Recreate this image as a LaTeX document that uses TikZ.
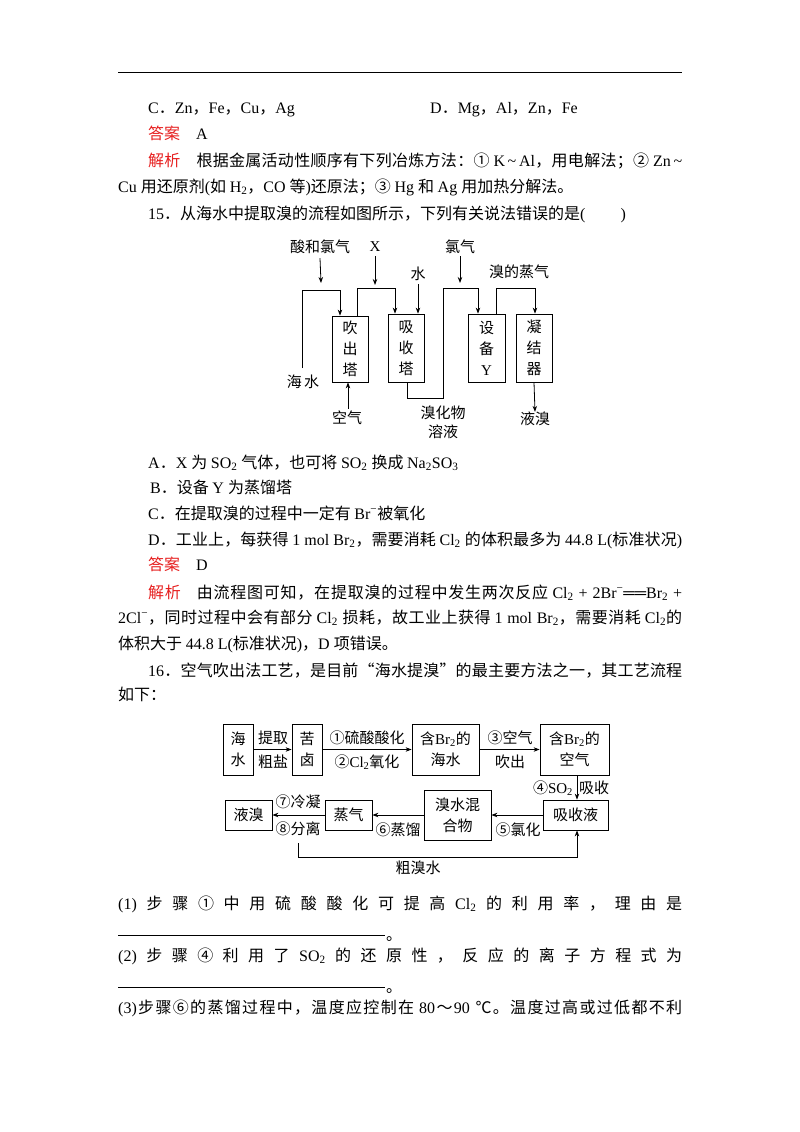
\documentclass[tikz,border=0pt]{standalone}
\usepackage{fontspec}
\usetikzlibrary{arrows.meta}
\setmainfont{Liberation Serif}
\newfontfamily\zhfont{Noto Sans CJK SC}
\XeTeXinterchartokenstate=1
\newXeTeXintercharclass\zhcls
\count255="3000 \loop\XeTeXcharclass\count255=\zhcls\ifnum\count255<"9FFF\advance\count255 by 1 \repeat
\count255="FF00 \loop\XeTeXcharclass\count255=\zhcls\ifnum\count255<"FFEF\advance\count255 by 1 \repeat
\count255="2460 \loop\XeTeXcharclass\count255=\zhcls\ifnum\count255<"2473\advance\count255 by 1 \repeat
\XeTeXcharclass"2103=\zhcls
\XeTeXcharclass"201C=\zhcls \XeTeXcharclass"201D=\zhcls
\XeTeXinterchartoks 0 \zhcls = {\hskip0pt plus .1em\zhfont}
\XeTeXinterchartoks 4095 \zhcls = {\zhfont}
\XeTeXinterchartoks \zhcls 0 = {\hskip0pt plus .1em\rmfamily}
\XeTeXinterchartoks \zhcls \zhcls = {\hskip0pt plus .1em}
\XeTeXinterchartoks 4095 0 = {\rmfamily}
\definecolor{ansred}{RGB}{230,30,30}
\newcommand\jline[2]{\makebox[#1][s]{#2}}
\begin{document}
\begin{tikzpicture}[x=1pt,y=-1pt,
  t/.style={anchor=base west,inner sep=0,font=\fontsize{16}{18}\selectfont},
  d/.style={inner sep=0,font=\fontsize{15}{19}\selectfont,align=center},
  bx/.style={draw,line width=0.8pt,inner sep=0,align=center,font=\fontsize{15}{21}\selectfont},
  ar/.style={line width=0.8pt,-{Stealth[length=6pt,width=4.5pt]}},
  ln/.style={line width=0.8pt}]
\useasboundingbox (0,0) rectangle (800,1132);
\draw[line width=0.9pt] (118,72) coordinate (r1) -- (682,72) coordinate (r2);
% page text
\node[t] (l1) at (148,113) {C．Zn，Fe，Cu，Ag};
\node[t] (l1b) at (430,113) {D．Mg，Al，Zn，Fe};
\node[t] (l2) at (148,139) {\textcolor{ansred}{答案}\hspace{1em}A};
\node[t] (l3) at (148,166) {\jline{534pt}{\textcolor{ansred}{解析}\hspace{1em}根据金属活动性顺序有下列冶炼方法：① K\,\char"007E\,Al，用电解法；② Zn\,\char"007E}};
\node[t] (l4) at (118,192) {Cu 用还原剂(如 H\textsubscript{2}，CO 等)还原法；③ Hg 和 Ag 用加热分解法。};
\node[t] (l5) at (148,219) {15．从海水中提取溴的流程如图所示，下列有关说法错误的是(\hspace{2.2em})};
\node[t] (a1) at (148,468) {A．X 为 SO\textsubscript{2} 气体，也可将 SO\textsubscript{2} 换成 Na\textsubscript{2}SO\textsubscript{3}};
\node[t] (a2) at (150,493) {B．设备 Y 为蒸馏塔};
\node[t] (a3) at (148,519) {C．在提取溴的过程中一定有 Br\textsuperscript{−}被氧化};
\node[t] (a4) at (148,545) {\jline{534pt}{D．工业上，每获得 1 mol Br\textsubscript{2}，需要消耗 Cl\textsubscript{2} 的体积最多为 44.8 L(标准状况)}};
\node[t] (a5) at (148,570) {\textcolor{ansred}{答案}\hspace{1em}D};
\node[t] (a6) at (148,598) {\jline{534pt}{\textcolor{ansred}{解析}\hspace{1em}由流程图可知，在提取溴的过程中发生两次反应 Cl\textsubscript{2} + 2Br\textsuperscript{−}══Br\textsubscript{2} +}};
\node[t] (a7) at (118,623) {\jline{564pt}{2Cl\textsuperscript{−}，同时过程中会有部分 Cl\textsubscript{2} 损耗，故工业上获得 1 mol Br\textsubscript{2}，需要消耗 Cl\textsubscript{2}的}};
\node[t] (a8) at (118,649) {体积大于 44.8 L(标准状况)，D 项错误。};
\node[t] (a9) at (148,676) {\jline{534pt}{16．空气吹出法工艺，是目前“海水提溴”的最主要方法之一，其工艺流程}};
\node[t] (a10) at (118,700) {如下：};
\node[t] (q1) at (118,909) {\makebox[564pt]{(1)\hfill 步\hfill 骤\hfill ①\hfill 中\hfill 用\hfill 硫\hfill 酸\hfill 酸\hfill 化\hfill 可\hfill 提\hfill 高\hfill Cl\textsubscript{2}\hfill 的\hfill 利\hfill 用\hfill 率\hfill ，\hfill 理\hfill 由\hfill 是}};
\draw[line width=0.7pt] (118,935) coordinate (u1) -- (385,935) coordinate (u2);
\node[t] (q1e) at (386,940) {。};
\node[t] (q2) at (118,961) {\makebox[564pt]{(2)\hfill 步\hfill 骤\hfill ④\hfill 利\hfill 用\hfill 了\hfill SO\textsubscript{2}\hfill 的\hfill 还\hfill 原\hfill 性\hfill ，\hfill 反\hfill 应\hfill 的\hfill 离\hfill 子\hfill 方\hfill 程\hfill 式\hfill 为}};
\draw[line width=0.7pt] (118,987) coordinate (u3) -- (385,987) coordinate (u4);
\node[t] (q2e) at (386,992) {。};
\node[t] (q3) at (118,1013) {\jline{564pt}{(3)步骤⑥的蒸馏过程中，温度应控制在 80～90 ℃。温度过高或过低都不利}};
% diagram 1
\node[bx,minimum width=36,minimum height=66] (b1) at (350,349) {吹\\出\\塔};
\node[bx,minimum width=36,minimum height=68] (b2) at (406,348) {吸\\收\\塔};
\node[bx,minimum width=37,minimum height=68] (b3) at (486.5,348) {设\\备\\Y};
\node[bx,minimum width=36,minimum height=68] (b4) at (534,348) {凝\\结\\器};
\node[d] (n1) at (320,247) {酸和氯气};
\node[d] (n2) at (375,247) {X};
\node[d] (n3) at (418,274) {水};
\node[d] (n4) at (460,247) {氯气};
\node[d] (n5) at (519,272) {溴的蒸气};
\node[d] (n6) at (303,382) {海\,水};
\node[d] (n7) at (347,418) {空气};
\node[d] (n8) at (443,422) {溴化物\\溶液};
\node[d] (n9) at (535,419) {液溴};
\coordinate (sw) at (302,368);
\draw[ln] (sw) -- (302,290) -- (340,290);
\draw[ar] (340,290) -- ([xshift=-10]b1.north);
\draw[ar] (n1.south) ++(0,4) -- (321,283);
\draw[ar] ([xshift=7]b1.north) -- (357,288) -- (395,288) -- (b2.north -| 395,0);
\draw[ar] (375,256) -- (375,285);
\draw[ar] (n3.south) ++(0,3) -- (b3.north -| 418,0);
\draw[ar] ([xshift=1]b2.south) -- (407,398) -- (443,398) -- (443,288) -- (478,288) -- (b3.north -| 478,0);
\draw[ar] (460,256) -- (460,283);
\draw[ar] ([xshift=9.5]b3.north) -- (496,288) -- (535,288) -- (b4.north -| 535,0);
\draw[ar] (b4.south) -- (n9.north);
\draw[ar] (n7.north) ++(1,-2) -- (b1.south -| 348,0);
% diagram 2
\node[bx,minimum width=30,minimum height=51] (c1) at (238,749.5) {海\\水};
\node[bx,minimum width=30,minimum height=51] (c2) at (307,749.5) {苦\\卤};
\node[bx,minimum width=67,minimum height=51] (c3) at (445.5,749.5) {含Br\textsubscript{2}的\\海水};
\node[bx,minimum width=69,minimum height=51] (c4) at (574.5,749.5) {含Br\textsubscript{2}的\\空气};
\node[bx,minimum width=65,minimum height=30] (c5) at (575.5,815) {吸收液};
\node[bx,minimum width=67,minimum height=50] (c6) at (457.5,815) {溴水混\\合物};
\node[bx,minimum width=47,minimum height=30] (c7) at (348.5,815) {蒸气};
\node[bx,minimum width=47,minimum height=30] (c8) at (248.5,815) {液溴};
\draw[ar] (c1) -- (c2);
\draw[ar] (c2) -- (c3);
\draw[ar] (c3) -- (c4);
\draw[ar] (c4.south -| 577,0) -- (c5.north -| 577,0);
\draw[ar] (c5) -- (c6);
\draw[ar] (c6) -- (c7);
\draw[ar] (c7) -- (c8);
\coordinate (cs) at (298,843);
\draw[ar] (cs) -- (298,857) -- (577,857) -- (c5.south -| 577,0);
\node[d] (e1) at (273,738) {提取};
\node[d] (e2) at (273,762) {粗盐};
\node[d] (e3) at (367,738) {①硫酸酸化};
\node[d] (e4) at (367,762) {②Cl\textsubscript{2}氧化};
\node[d] (e5) at (510,738) {③空气};
\node[d] (e6) at (510,762) {吹出};
\node[d] (e7) at (553,788) {④SO\textsubscript{2}};
\node[d] (e8) at (594,788) {吸收};
\node[d] (e9) at (518,830) {⑤氯化};
\node[d] (e10) at (398,830) {⑥蒸馏};
\node[d] (e11) at (298,802) {⑦冷凝};
\node[d] (e12) at (298,829) {⑧分离};
\node[d] (e13) at (418,868) {粗溴水};
\end{tikzpicture}
\end{document}
